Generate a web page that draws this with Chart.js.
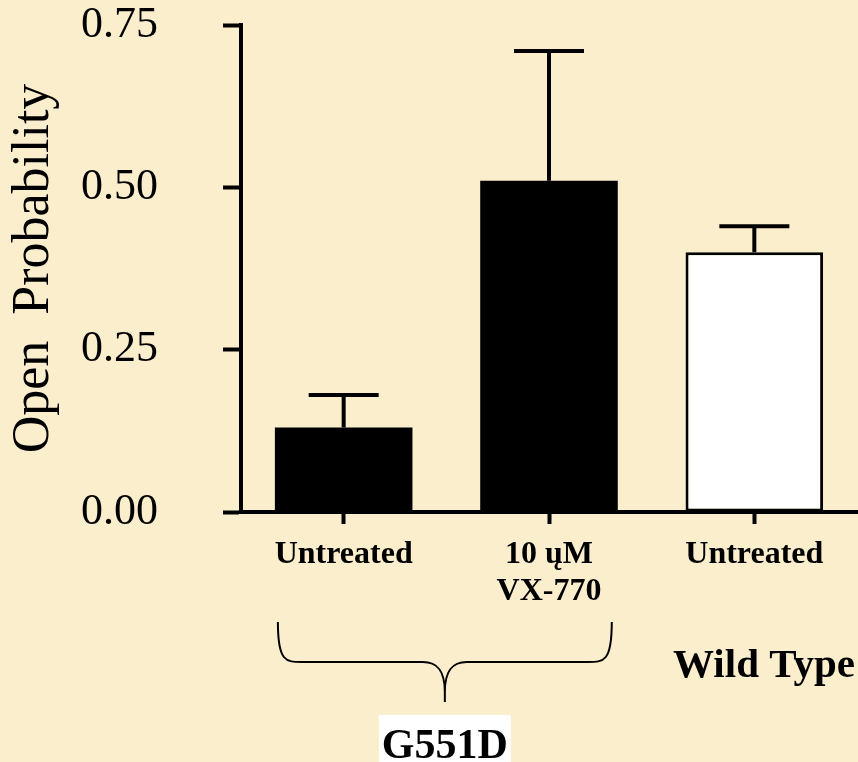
<!DOCTYPE html>
<html>
<head>
<meta charset="utf-8">
<script src="https://cdn.jsdelivr.net/npm/chart.js@4"></script>
<style>
    html, body { margin: 0; padding: 0; background: #FBEECC; }
    #wrap { width: 858px; height: 762px; }
</style>
</head>
<body>
<div id="wrap"><canvas id="openChart"></canvas></div>
<script>
// dados
const groupLabels = ['Untreated', ['10 ųM', 'VX-770'], 'Untreated'];
const meanValues = [0.13, 0.51, 0.40];
const errorValues = [0.05, 0.20, 0.04];
const barColors = ['#000000', '#000000', '#FFFFFF'];
const yTicks = [0, 0.25, 0.5, 0.75];

const serif = "'Liberation Serif', 'Times New Roman', serif";

// barras de erro (só para cima) e anotações de grupo
const extrasPlugin = {
    id: 'extras',
    beforeDraw(chart) {
        const ctx = chart.ctx;
        ctx.save();
        ctx.fillStyle = '#FBEECC';
        ctx.fillRect(0, 0, chart.width, chart.height);
        ctx.restore();
    },
    afterDatasetsDraw(chart) {
        const ctx = chart.ctx;
        const y = chart.scales.y;
        const meta = chart.getDatasetMeta(0);
        ctx.save();
        ctx.strokeStyle = '#000';
        ctx.lineWidth = 4;
        meta.data.forEach((bar, i) => {
            const top = y.getPixelForValue(meanValues[i] + errorValues[i]);
            const base = y.getPixelForValue(meanValues[i]);
            ctx.beginPath();
            ctx.moveTo(bar.x, base);
            ctx.lineTo(bar.x, top);
            ctx.moveTo(bar.x - 35, top);
            ctx.lineTo(bar.x + 35, top);
            ctx.stroke();
        });
        ctx.restore();
    },
    afterDraw(chart) {
        const ctx = chart.ctx;
        const meta = chart.getDatasetMeta(0);
        const b1 = meta.data[0], b2 = meta.data[1];
        const left = b1.x - b1.width / 2 + 3;
        const right = b2.x + b2.width / 2 - 6;
        const mid = (left + right) / 2;
        const top = 622, flat = 662, tip = 702;

        ctx.save();
        ctx.strokeStyle = '#000';
        ctx.lineWidth = 2;
        ctx.beginPath();
        ctx.moveTo(left, top);
        ctx.bezierCurveTo(left, flat, left + 8, flat, left + 24, flat);
        ctx.lineTo(mid - 22, flat);
        ctx.bezierCurveTo(mid - 8, flat, mid, flat + 8, mid, flat + 30);
        ctx.lineTo(mid, tip);
        ctx.moveTo(right, top);
        ctx.bezierCurveTo(right, flat, right - 8, flat, right - 24, flat);
        ctx.lineTo(mid + 22, flat);
        ctx.bezierCurveTo(mid + 8, flat, mid, flat + 8, mid, flat + 30);
        ctx.stroke();

        ctx.fillStyle = '#000';
        ctx.font = 'bold 41px ' + serif;
        ctx.textAlign = 'right';
        ctx.textBaseline = 'alphabetic';
        ctx.fillText('Wild Type', 855, 677);

        ctx.font = 'bold 42px ' + serif;
        const w = ctx.measureText('G551D').width;
        ctx.fillStyle = '#FFFFFF';
        ctx.fillRect(mid - w / 2 - 3, 715, w + 6, 47);
        ctx.fillStyle = '#000';
        ctx.textAlign = 'center';
        ctx.fillText('G551D', mid, 758);
        ctx.restore();
    }
};

new Chart(document.getElementById('openChart'), {
    type: 'bar',
    data: {
        labels: groupLabels,
        datasets: [{
            data: meanValues,
            backgroundColor: barColors,
            borderColor: '#000000',
            borderWidth: [0, 0, 3],
            borderSkipped: false,
            barPercentage: 0.67,
            categoryPercentage: 1
        }]
    },
    options: {
        responsive: true,
        maintainAspectRatio: false,
        animation: false,
        layout: { padding: { top: 25, right: 1, left: 0, bottom: 0 } },
        plugins: {
            legend: { display: false },
            tooltip: { enabled: false }
        },
        scales: {
            x: {
                grid: {
                    offset: false,
                    drawOnChartArea: false,
                    tickLength: 12,
                    tickWidth: 4,
                    tickColor: '#000'
                },
                border: { color: '#000', width: 4 },
                ticks: {
                    color: '#000',
                    padding: 12,
                    maxRotation: 0,
                    font: { family: serif, size: 32, weight: 'bold', lineHeight: 1.17 }
                },
                afterFit(scale) {
                    scale.height = 250;
                    scale.paddingLeft = 0;
                    scale.paddingRight = 0;
                }
            },
            y: {
                min: 0,
                max: 0.75,
                afterBuildTicks(scale) { scale.ticks = yTicks.map(v => ({ value: v })); },
                grid: {
                    drawOnChartArea: false,
                    tickLength: 18,
                    tickWidth: 4,
                    tickColor: '#000'
                },
                border: { color: '#000', width: 4 },
                ticks: {
                    color: '#000',
                    padding: 65,
                    font: { family: serif, size: 44 },
                    callback: v => v.toFixed(2)
                },
                title: {
                    display: true,
                    text: 'Open  Probability',
                    color: '#000',
                    padding: { top: 3, bottom: 0 },
                    font: { family: serif, size: 52 }
                },
                afterFit(scale) {
                    scale.width = 241;
                    scale.paddingTop = 0;
                    scale.paddingBottom = 0;
                }
            }
        }
    },
    plugins: [extrasPlugin]
});
</script>
</body>
</html>
